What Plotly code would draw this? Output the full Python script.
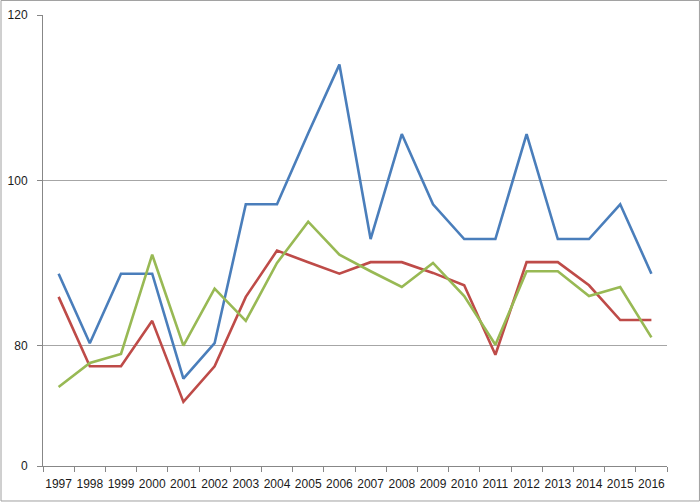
import plotly.graph_objects as go

years = [str(y) for y in range(1997, 2017)]
blue = [88.7, 80.3, 88.7, 88.7, 76.0, 80.3, 97.1, 97.1, 105.7, 114.0,
        92.9, 105.6, 97.1, 92.9, 92.9, 105.6, 92.9, 92.9, 97.1, 88.7]
red = [85.9, 77.5, 77.5, 83.0, 73.2, 77.5, 85.9, 91.5, 90.1, 88.7,
       90.1, 90.1, 88.8, 87.3, 78.9, 90.1, 90.1, 87.3, 83.1, 83.1]
green = [75.0, 77.9, 79.0, 91.0, 80.0, 86.9, 83.0, 90.0, 95.0, 91.0,
         89.0, 87.1, 90.0, 86.0, 80.1, 89.0, 89.0, 86.0, 87.1, 81.0]

y_min, y_max = 65.44, 120
tick_vals = [y_min, 80, 100, 120]
tick_text = ["0", "80", "100", "120"]

fig = go.Figure()
for vals, col in [(blue, "#4A7EBB"), (red, "#BE4B48"), (green, "#98B954")]:
    fig.add_trace(go.Scatter(x=years, y=vals, mode="lines",
                             line=dict(color=col, width=2.6), showlegend=False))

axis_gray = "#878787"
fig.update_layout(
    width=700, height=502,
    margin=dict(l=43, r=33, t=15, b=36),
    paper_bgcolor="white", plot_bgcolor="white",
    font=dict(family="Liberation Sans, Arial, sans-serif", size=12, color="#1a1a1a"),
    xaxis=dict(type="category", range=[-0.5, len(years) - 0.5],
               tickson="boundaries", ticks="outside", ticklen=5, tickangle=0,
               ticklabelstandoff=7,
               tickcolor=axis_gray, showline=True, linecolor=axis_gray, linewidth=1,
               showgrid=False, tickfont=dict(size=12), automargin=False),
    yaxis=dict(range=[y_min, y_max], tickvals=tick_vals, ticktext=tick_text,
               ticks="outside", ticklen=5, tickcolor=axis_gray, ticklabelstandoff=7,
               showline=True, linecolor=axis_gray, linewidth=1,
               showgrid=True, gridcolor="#A6A6A6", gridwidth=1, zeroline=False,
               tickfont=dict(size=12), automargin=False),
    shapes=[dict(type="rect", xref="paper", yref="paper",
                 x0=-0.0673, x1=1.052, y0=-0.0776, y1=1.0322,
                 line=dict(color="#A0A0A0", width=1), fillcolor="rgba(0,0,0,0)",
                 layer="below")],
)

fig.write_html("out.html", config={"displayModeBar": False},
               post_script="document.body.style.margin='0';document.body.style.overflow='hidden';")
